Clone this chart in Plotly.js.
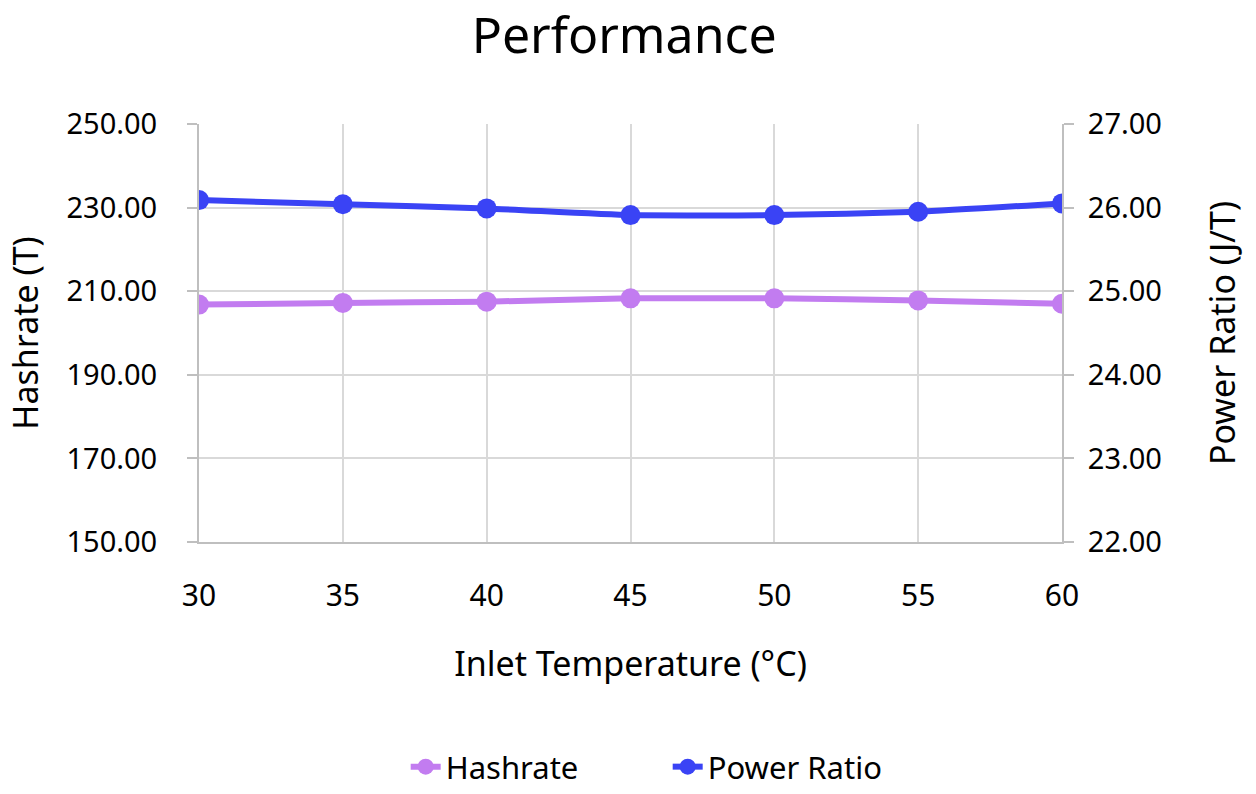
<!DOCTYPE html>
<html>
<head>
<meta charset="utf-8">
<script src="https://cdn.plot.ly/plotly-3.0.1.min.js"></script>
<style>html,body{margin:0;padding:0;background:#fff;}#chart{width:1256px;height:794px;}</style>
</head>
<body>
<div id="chart"></div>
<script>
const temperatures = [30, 35, 40, 45, 50, 55, 60];
const hashrate = [206.8, 207.2, 207.5, 208.3, 208.3, 207.8, 207.0];
const powerRatio = [26.09, 26.04, 25.99, 25.91, 25.91, 25.95, 26.05];
const leftTicks = [150, 170, 190, 210, 230, 250];
const rightTicks = [22, 23, 24, 25, 26, 27];

const FONT = 'Noto Sans, sans-serif';
const traces = [
  {
    x: temperatures, y: hashrate, name: 'Hashrate', type: 'scatter', mode: 'lines+markers',
    line: {color: '#c27cf0', width: 6, shape: 'spline', smoothing: 0.5},
    marker: {color: '#c27cf0', size: 20}
  },
  {
    x: temperatures, y: powerRatio, name: 'Power Ratio', type: 'scatter', mode: 'lines+markers', yaxis: 'y2',
    line: {color: '#3a43f5', width: 6, shape: 'spline', smoothing: 0.5},
    marker: {color: '#3a43f5', size: 20}
  }
];
const layout = {
  width: 1256, height: 794,
  paper_bgcolor: '#fff', plot_bgcolor: '#fff',
  font: {family: FONT, color: '#000', size: 28},
  title: {text: 'Performance', font: {size: 50, family: FONT}, x: 0.497, xanchor: 'center', y: 0.955, yanchor: 'middle'},
  margin: {l: 199, r: 194, t: 124, b: 252, autoexpand: false},
  showlegend: true,
  legend: {orientation: 'h', xref: 'container', x: 0.323, xanchor: 'left', yref: 'container', y: 0.0, yanchor: 'bottom',
    font: {size: 31, family: FONT}, entrywidth: 217, entrywidthmode: 'pixels', tracegroupgap: 0},
  xaxis: {
    range: [30, 60], tickvals: temperatures, ticktext: temperatures.map(String),
    showgrid: true, gridcolor: '#d9d9d9', gridwidth: 2, zeroline: false,
    showline: true, linecolor: '#bfbfbf', linewidth: 2, automargin: false,
    ticks: 'outside', ticklen: 26, tickcolor: 'rgba(0,0,0,0)', tickfont: {size: 30},
    title: {text: 'Inlet Temperature (°C)', font: {size: 34}, standoff: 38}
  },
  yaxis: {
    range: [150, 250], tickvals: leftTicks, ticktext: leftTicks.map(v => v.toFixed(2)),
    showgrid: true, gridcolor: '#d9d9d9', gridwidth: 2, zeroline: false,
    showline: true, linecolor: '#bfbfbf', linewidth: 2, automargin: false,
    ticks: 'outside', ticklen: 10, tickcolor: '#bfbfbf', tickwidth: 2, tickfont: {size: 29},
    ticklabelstandoff: 24,
    title: {text: 'Hashrate (T)', font: {size: 34}, standoff: 18}
  },
  yaxis2: {
    range: [22, 27], tickvals: rightTicks, ticktext: rightTicks.map(v => v.toFixed(2)),
    overlaying: 'y', side: 'right', showgrid: false, zeroline: false,
    showline: true, linecolor: '#bfbfbf', linewidth: 2, automargin: false,
    ticks: 'outside', ticklen: 10, tickcolor: '#bfbfbf', tickwidth: 2, tickfont: {size: 29},
    ticklabelstandoff: 8,
    title: {text: 'Power Ratio (J/T)', font: {size: 34}, standoff: 50}
  }
};
Plotly.newPlot('chart', traces, layout, {displayModeBar: false, staticPlot: true});
</script>
</body>
</html>
